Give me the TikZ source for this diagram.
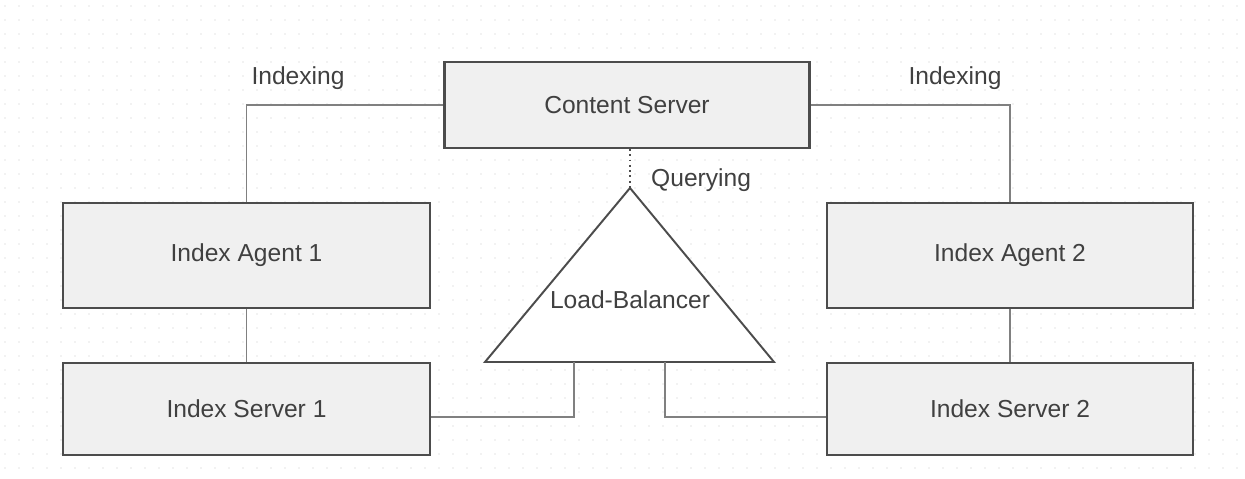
\documentclass[tikz,border=0pt]{standalone}
\usepackage{fontspec}
\setmainfont{Liberation Sans}
\begin{document}
\begin{tikzpicture}[x=0.02cm,y=-0.02cm,
    box/.style={draw=black!70, line width=1.3pt, fill=black!6, rectangle,
      font=\fontsize{14}{16}\selectfont, text=black!75},
    link/.style={draw=black!50, line width=1.1pt},
    lbl/.style={font=\fontsize{14}{16}\selectfont, text=black!75},
  ]
\definecolor{dotgray}{rgb}{0.78,0.78,0.78}
\useasboundingbox (0,0) rectangle (1245,479);

%%%%%%%%%%%%%%%% background dots
\foreach \i in {0,...,88}
  \foreach \j in {0,...,33}
    \fill[dotgray] (5+14*\i,6+14*\j) circle (0.7);

%%%%%%%%%%%%%%%% boxes
\node[box, minimum width=365*0.02cm, minimum height=86*0.02cm] (content) at (627,105) {Content Server};
\node[box, minimum width=367*0.02cm, minimum height=105*0.02cm] (agentone) at (246.5,255.5) {Index Agent 1};
\node[box, minimum width=367*0.02cm, minimum height=92*0.02cm] (serverone) at (246.5,409) {Index Server 1};
\node[box, minimum width=366*0.02cm, minimum height=105*0.02cm] (agenttwo) at (1010,255.5) {Index Agent 2};
\node[box, minimum width=366*0.02cm, minimum height=92*0.02cm] (servertwo) at (1010,409) {Index Server 2};

%%%%%%%%%%%%%%%% load balancer
\coordinate (lbtop) at (630,188);
\coordinate (lbleft) at (485,362);
\coordinate (lbright) at (774,362);
\coordinate (lbone) at (574,362);
\coordinate (lbtwo) at (665,362);
\draw[draw=black!70, line width=1.1pt, fill=white] (lbtop) -- (lbleft) -- (lbright) -- cycle;
\node[lbl] (lbtext) at (630,300) {Load-Balancer};

%% querying
\draw[black!70, line width=1pt, dotted] (content.south -| lbtop) -- (lbtop);
\node[lbl, anchor=west] (querying) at (645,180) {Querying};

%% indexing
\draw[link] (agentone.north) |- (content.west);
\draw[link] (agenttwo.north) |- (content.east);
\node[lbl] (indexone) at (298,78) {Indexing};
\node[lbl] (indextwo) at (955,78) {Indexing};

%% agents to servers
\draw[link] (agentone) -- (serverone);
\draw[link] (agenttwo) -- (servertwo);

%% balancer to servers
\draw[link] (lbone) |- (serverone.east |- 0,417);
\draw[link] (lbtwo) |- (servertwo.west |- 0,417);

\end{tikzpicture}
\end{document}
